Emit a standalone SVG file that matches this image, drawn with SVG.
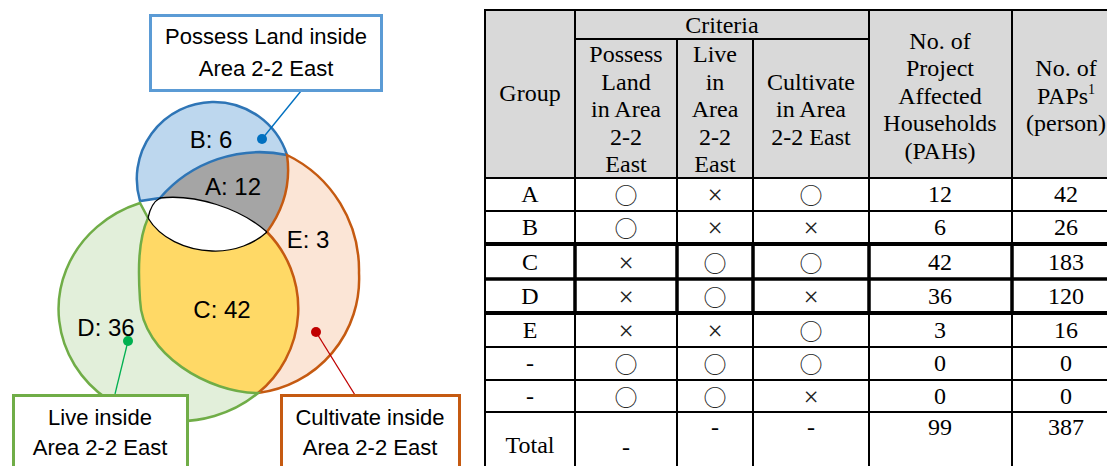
<svg xmlns="http://www.w3.org/2000/svg" width="1107" height="466" viewBox="0 0 1107 466">
<style>
.lbl{font-family:"Liberation Sans",Arial,sans-serif;font-size:22px;fill:#000;text-anchor:middle}
.vl{font-family:"Liberation Sans",Arial,sans-serif;font-size:24px;fill:#000;text-anchor:middle}
.tt{font-family:"Liberation Serif","Times New Roman",serif;font-size:24px;fill:#000;text-anchor:middle}
.x{font-family:"Liberation Serif","Times New Roman",serif;font-size:27px;fill:#222;text-anchor:middle}
.sym{font-family:"Noto Sans CJK JP","Noto Sans CJK SC",sans-serif;font-size:23px;fill:#222;text-anchor:middle}
.grid{stroke:#000;stroke-width:2;fill:none}
.thick{stroke:#000;stroke-width:4;fill:none}
.med{stroke:#000;stroke-width:3.5;fill:none}
.box{fill:#fff;stroke-width:3}
.lead{fill:none;stroke-width:1.3}
</style>
<rect width="1107" height="466" fill="#fff"/>
<g id="venn">
  <path id="regionA" d="M160,198 A132,132 0 0 1 287,155 Q293,196.5 267,232 C240,208 195,194 160,198 Z" fill="#A5A5A5"/>
  <path id="lens" d="M148,218 L141,203 L160,198 C195,194 240,208 267,232 C255,243 235,252 212,251 C185,250 160,238 148,218 Z" fill="#fff"/>
  <path id="regionC" d="M148,218 C160,238 185,250 212,251 C235,252 255,243 267,232 A109,109 0 0 1 258,393 C210,393 142,355 140,300 C138,270 138,240 148,218 Z" fill="#FFD966"/>
  <path id="regionB" d="M140,201 A77,77 0 0 1 212,102 A77,77 0 0 1 287,155 A132,132 0 0 0 160,198 Z" fill="#BDD7EE" stroke="#2E75B6" stroke-width="2.5"/>
  <path id="regionE" d="M287,155 A128,128 0 0 1 359,273 A115,115 0 0 1 258,393 A109,109 0 0 0 267,232 Q293,196.5 287,155 Z" fill="#FBE5D6" stroke="#C55A11" stroke-width="2.5"/>
  <path id="regionD" d="M140,203 A120,112 0 1 0 258,393 C210,393 142,355 140,300 C138,270 138,240 148,218 Z" fill="#E2EFDA" stroke="#70AD47" stroke-width="2.5"/>
  <path id="lens-edge" d="M148,218 Q151,203 160,198 C195,194 240,208 267,232 M148,218 C160,238 185,250 212,251 C235,252 255,243 267,232" fill="none" stroke="#000" stroke-width="1.3"/>
  <text class="vl" x="211" y="148">B: 6</text>
  <text class="vl" x="233" y="195">A: 12</text>
  <text class="vl" x="308" y="248">E: 3</text>
  <text class="vl" x="222" y="318">C: 42</text>
  <text class="vl" x="106" y="336">D: 36</text>
</g>
<g id="connectors">
  <line class="lead" x1="301" y1="91" x2="262" y2="139" stroke="#0070C0"/>
  <circle cx="262" cy="139" r="5" fill="#0070C0"/>
  <line class="lead" x1="115" y1="394" x2="128" y2="341" stroke="#00B050"/>
  <circle cx="128" cy="341" r="5" fill="#00B050"/>
  <line class="lead" x1="355" y1="395" x2="316" y2="332" stroke="#C00000"/>
  <circle cx="316" cy="332" r="5" fill="#C00000"/>
</g>
<g id="box-possess">
  <rect class="box" x="150.5" y="15.5" width="231" height="75" stroke="#5B9BD5"/>
  <text class="lbl" x="266" y="44">Possess Land inside</text>
  <text class="lbl" x="266" y="76">Area 2-2 East</text>
</g>
<g id="box-live">
  <rect class="box" x="13.5" y="395.5" width="174" height="80" stroke="#70AD47"/>
  <text class="lbl" x="100" y="425">Live inside</text>
  <text class="lbl" x="100" y="455">Area 2-2 East</text>
</g>
<g id="box-cultivate">
  <rect class="box" x="281.5" y="395.5" width="178" height="80" stroke="#C55A11"/>
  <text class="lbl" x="370" y="425">Cultivate inside</text>
  <text class="lbl" x="370" y="455">Area 2-2 East</text>
</g>
<g id="table">
  <rect x="485" y="10" width="640" height="168" fill="#D9D9D9"/>
  <path class="grid" d="M484,10H1107 M575,39H869 M484,178H1107 M484,211H1107 M484,347H1107 M484,380H1107 M484,412H1107"/>
  <path class="thick" d="M484,244H1107 M484,313H1107"/>
  <path class="med" d="M484,279H1107" stroke-width="3"/>
  <path class="grid" d="M485,10V466 M575,10V466 M677,39V466 M753,39V466 M869,10V466 M1012,10V466"/>
  <path class="med" d="M575,244V313 M677,244V313 M753,244V313 M869,244V313 M1012,244V313"/>
  <text class="tt" x="530" y="101">Group</text>
  <text class="tt" x="722" y="33">Criteria</text>
  <text class="tt" x="626" y="62">Possess</text>
  <text class="tt" x="626" y="89.5">Land</text>
  <text class="tt" x="626" y="117">in Area</text>
  <text class="tt" x="626" y="144.5">2-2</text>
  <text class="tt" x="626" y="172">East</text>
  <text class="tt" x="715" y="62">Live</text>
  <text class="tt" x="715" y="89.5">in</text>
  <text class="tt" x="715" y="117">Area</text>
  <text class="tt" x="715" y="144.5">2-2</text>
  <text class="tt" x="715" y="172">East</text>
  <text class="tt" x="811" y="89.5">Cultivate</text>
  <text class="tt" x="811" y="117">in Area</text>
  <text class="tt" x="811" y="144.5">2-2 East</text>
  <text class="tt" x="940" y="49">No. of</text>
  <text class="tt" x="940" y="76">Project</text>
  <text class="tt" x="940" y="103.5">Affected</text>
  <text class="tt" x="940" y="131">Households</text>
  <text class="tt" x="940" y="158.5">(PAHs)</text>
  <text class="tt" x="1066" y="76">No. of</text>
  <text class="tt" x="1066" y="103.5">PAPs<tspan font-size="14" dy="-10">1</tspan></text>
  <text class="tt" x="1066" y="131">(person)</text>

  <text class="tt" x="530" y="202">A</text>
  <text class="sym" x="626" y="204">○</text>
  <text class="x" x="715" y="204">×</text>
  <text class="sym" x="811" y="204">○</text>
  <text class="tt" x="940" y="202">12</text>
  <text class="tt" x="1066" y="202">42</text>

  <text class="tt" x="530" y="235">B</text>
  <text class="sym" x="626" y="237">○</text>
  <text class="x" x="715" y="237">×</text>
  <text class="x" x="811" y="237">×</text>
  <text class="tt" x="940" y="235">6</text>
  <text class="tt" x="1066" y="235">26</text>

  <text class="tt" x="530" y="270">C</text>
  <text class="x" x="626" y="272">×</text>
  <text class="sym" x="715" y="272">○</text>
  <text class="sym" x="811" y="272">○</text>
  <text class="tt" x="940" y="270">42</text>
  <text class="tt" x="1066" y="270">183</text>

  <text class="tt" x="530" y="304">D</text>
  <text class="x" x="626" y="306">×</text>
  <text class="sym" x="715" y="306">○</text>
  <text class="x" x="811" y="306">×</text>
  <text class="tt" x="940" y="304">36</text>
  <text class="tt" x="1066" y="304">120</text>

  <text class="tt" x="530" y="338">E</text>
  <text class="x" x="626" y="340">×</text>
  <text class="x" x="715" y="340">×</text>
  <text class="sym" x="811" y="340">○</text>
  <text class="tt" x="940" y="338">3</text>
  <text class="tt" x="1066" y="338">16</text>

  <text class="tt" x="530" y="371">-</text>
  <text class="sym" x="626" y="373">○</text>
  <text class="sym" x="715" y="373">○</text>
  <text class="sym" x="811" y="373">○</text>
  <text class="tt" x="940" y="371">0</text>
  <text class="tt" x="1066" y="371">0</text>

  <text class="tt" x="530" y="404">-</text>
  <text class="sym" x="626" y="406">○</text>
  <text class="sym" x="715" y="406">○</text>
  <text class="x" x="811" y="406">×</text>
  <text class="tt" x="940" y="404">0</text>
  <text class="tt" x="1066" y="404">0</text>

  <text class="tt" x="530" y="453">Total</text>
  <text class="tt" x="626" y="455">-</text>
  <text class="tt" x="715" y="435">-</text>
  <text class="tt" x="811" y="435">-</text>
  <text class="tt" x="940" y="435">99</text>
  <text class="tt" x="1066" y="435">387</text>
</g>
</svg>
